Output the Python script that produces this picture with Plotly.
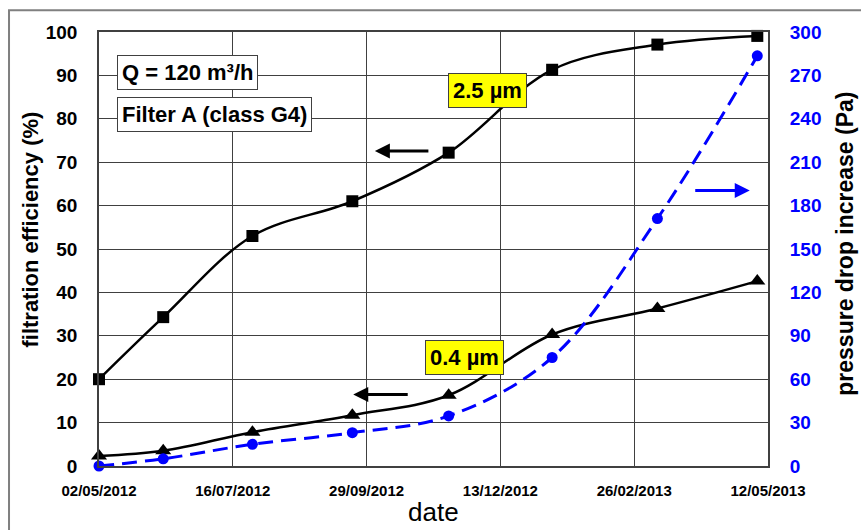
import plotly.graph_objects as go

# Measurement dates and results
dates = ["2012-05-02", "2012-06-07", "2012-07-27", "2012-09-21",
         "2012-11-14", "2013-01-11", "2013-03-11", "2013-05-06"]
eff_2_5um = [20, 34.3, 53, 61, 72.2, 91.3, 97.1, 99.1]      # %
eff_0_4um = [2.3, 3.5, 7.8, 11.7, 16.3, 30.3, 36.3, 42.6]    # %
pressure_drop = [0, 5, 15, 23, 34.6, 75, 171, 283.5]         # Pa

tick_dates = ["2012-05-02", "2012-07-16", "2012-09-29",
              "2012-12-13", "2013-02-26", "2013-05-12"]
tick_text = ["02/05/2012", "16/07/2012", "29/09/2012",
             "13/12/2012", "26/02/2013", "12/05/2013"]

FONT = "Liberation Sans, Arial, sans-serif"
BLUE = "#0000FF"
GRID = "#404040"

fig = go.Figure()

fig.add_trace(go.Scatter(
    x=dates, y=eff_2_5um, mode="lines+markers", name="2.5 µm",
    line=dict(color="black", width=2.5, shape="spline"),
    marker=dict(symbol="square", size=12, color="black"),
    cliponaxis=False,
))
fig.add_trace(go.Scatter(
    x=dates, y=eff_0_4um, mode="lines+markers", name="0.4 µm",
    line=dict(color="black", width=2.5, shape="spline"),
    marker=dict(symbol="triangle-up", size=14, color="black"),
    cliponaxis=False,
))
fig.add_trace(go.Scatter(
    x=dates, y=pressure_drop, mode="lines+markers", name="pressure drop",
    yaxis="y2",
    line=dict(color=BLUE, width=3, shape="spline", dash="15px,8px"),
    marker=dict(symbol="circle", size=11, color=BLUE),
    cliponaxis=False,
))

fig.update_layout(
    width=861, height=530,
    margin=dict(l=99, r=93, t=32, b=64),
    paper_bgcolor="white", plot_bgcolor="white",
    showlegend=False,
    font=dict(family=FONT, color="black"),
    xaxis=dict(
        type="date", range=["2012-05-02", "2013-05-12"],
        tickvals=tick_dates, ticktext=tick_text,
        tickfont=dict(family=FONT, size=15, color="black", weight="bold"),
        showgrid=True, gridcolor=GRID, gridwidth=1,
        showline=True, linecolor=GRID, linewidth=1.5, mirror=True,
        ticks="outside", ticklen=10, tickcolor="rgba(0,0,0,0)",
        zeroline=False,
    ),
    yaxis=dict(
        range=[0, 100], dtick=10,
        tickfont=dict(family=FONT, size=19, color="black", weight="bold"),
        showgrid=True, gridcolor=GRID, gridwidth=1,
        showline=True, linecolor=GRID, linewidth=1.5, mirror=True,
        ticks="outside", ticklen=16, tickcolor="rgba(0,0,0,0)",
        zeroline=False,
    ),
    yaxis2=dict(
        range=[0, 300], dtick=30, overlaying="y", side="right",
        tickfont=dict(family=FONT, size=19, color=BLUE, weight="bold"),
        showgrid=False, zeroline=False,
        ticks="outside", ticklen=17, tickcolor="rgba(0,0,0,0)",
    ),
)

annotations = [
    # axis titles
    dict(text="filtration efficiency (%)", xref="paper", yref="paper",
         x=-0.103, y=0.545, textangle=-90, showarrow=False,
         xanchor="center", yanchor="middle",
         font=dict(family=FONT, size=22, color="black", weight="bold")),
    dict(text="pressure drop increase (Pa)", xref="paper", yref="paper",
         x=1.115, y=0.512, textangle=-90, showarrow=False,
         xanchor="center", yanchor="middle",
         font=dict(family=FONT, size=23, color="black", weight="bold")),
    dict(text="date", xref="paper", yref="paper",
         x=0.5, y=-0.107, showarrow=False,
         xanchor="center", yanchor="middle",
         font=dict(family=FONT, size=26, color="black")),
    # info boxes
    dict(text="Q = 120 m³/h", xref="paper", yref="paper",
         x=0.0269, y=0.907, showarrow=False, xanchor="left", yanchor="middle",
         bgcolor="white", bordercolor="#404040", borderwidth=1, borderpad=4,
         font=dict(family=FONT, size=22, color="black", weight="bold")),
    dict(text="Filter A (class G4)", xref="paper", yref="paper",
         x=0.0269, y=0.810, showarrow=False, xanchor="left", yanchor="middle",
         bgcolor="white", bordercolor="#404040", borderwidth=1, borderpad=4,
         font=dict(family=FONT, size=22, color="black", weight="bold")),
    # series labels
    dict(text="2.5 µm", xref="paper", yref="paper",
         x=0.581, y=0.866, showarrow=False, xanchor="center", yanchor="middle",
         bgcolor="#FFFF00", bordercolor="#404040", borderwidth=1, borderpad=4,
         font=dict(family=FONT, size=22, color="black", weight="bold")),
    dict(text="0.4 µm", xref="paper", yref="paper",
         x=0.547, y=0.249, showarrow=False, xanchor="center", yanchor="middle",
         bgcolor="#FFFF00", bordercolor="#404040", borderwidth=1, borderpad=4,
         font=dict(family=FONT, size=22, color="black", weight="bold")),
    # axis pointer arrows
    dict(text="", xref="paper", yref="paper", x=0.4124, y=0.7258,
         ax=55, ay=0, showarrow=True, arrowhead=2, arrowsize=1,
         arrowwidth=3, arrowcolor="black", standoff=0),
    dict(text="", xref="paper", yref="paper", x=0.380, y=0.1645,
         ax=56, ay=0, showarrow=True, arrowhead=2, arrowsize=1,
         arrowwidth=3, arrowcolor="black", standoff=0),
    dict(text="", xref="paper", yref="paper", x=0.9727, y=0.6346,
         ax=-56, ay=0, showarrow=True, arrowhead=2, arrowsize=1,
         arrowwidth=3, arrowcolor=BLUE, standoff=0),
]
fig.update_layout(annotations=annotations)

# outer chart frame
fig.add_shape(type="rect", xref="paper", yref="paper",
              x0=-0.1345, x1=1.16, y0=-0.18, y1=1.05,
              line=dict(color="#808080", width=2), fillcolor="rgba(0,0,0,0)",
              layer="below")

fig.write_html("out.html")
